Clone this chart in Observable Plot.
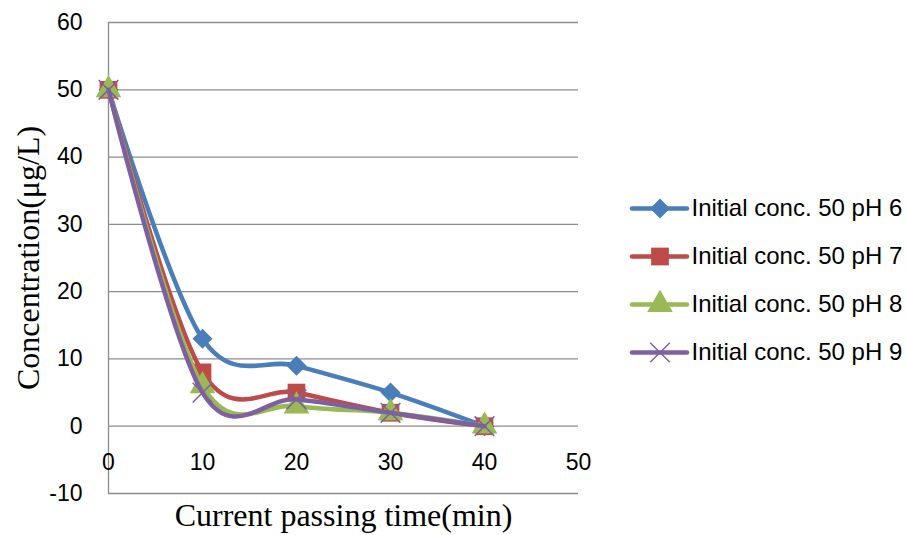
<!DOCTYPE html>
<html>
<head>
<meta charset="utf-8">
<script src="https://cdn.jsdelivr.net/npm/d3@7"></script>
<script src="https://cdn.jsdelivr.net/npm/@observablehq/plot@0.6"></script>
<style>
  html, body { margin: 0; padding: 0; background: #fff; }
  #wrap { position: relative; width: 906px; height: 535px; }
  #legend { position: absolute; left: 620px; top: 184px; }
</style>
</head>
<body>
<div id="wrap"><div id="chart"></div><div id="legend"></div></div>
<script>
const times = [0, 10, 20, 30, 40];
const seriesNames = ["Initial conc. 50 pH 6", "Initial conc. 50 pH 7", "Initial conc. 50 pH 8", "Initial conc. 50 pH 9"];
const pH6 = [50, 13, 9, 5, 0];
const pH7 = [50, 8, 5, 2, 0];
const pH8 = [50, 6, 3, 2, 0];
const pH9 = [50, 5, 4, 2, 0];
const yTicks = [-10, 0, 10, 20, 30, 40, 50, 60];
const xTicks = [0, 10, 20, 30, 40, 50];
const colors = ["#4a7ebb", "#be4b48", "#98b954", "#7d60a0"];
const symbols = ["diamond2", "square", "triangle", "times"];

const allValues = [pH6, pH7, pH8, pH9];
const data = [];
allValues.forEach((vals, i) => {
  vals.forEach((v, j) => data.push({series: seriesNames[i], time: times[j], conc: v}));
});

const gridColor = "#8c8c8c";
const fontSans = "'Liberation Sans', Arial, sans-serif";
const fontSerif = "'Liberation Serif', 'Times New Roman', serif";
const radius = s => s === "square" ? 10 : (s === "triangle" ? 9.5 : 9);

const markFor = (i) => {
  const d = data.filter(r => r.series === seriesNames[i]);
  const s = symbols[i];
  const isStroke = s === "times";
  return [
    Plot.line(d, {x: "time", y: "conc", stroke: colors[i], strokeWidth: 4.5, curve: "cardinal", tension: 0}),
    Plot.dot(d, {x: "time", y: "conc", symbol: () => s, r: radius(s),
      fill: isStroke ? "none" : colors[i], stroke: colors[i], strokeWidth: isStroke ? 1.5 : 0})
  ];
};

const chart = Plot.plot({
  width: 906,
  height: 535,
  marginLeft: 108,
  marginRight: 328,
  marginTop: 22,
  marginBottom: 42,
  style: {fontFamily: fontSans, background: "#fff", overflow: "visible"},
  x: {domain: [0, 50], axis: null},
  y: {domain: [-10, 60], axis: null},
  symbol: {type: "identity"},
  marks: [
    Plot.ruleY(yTicks, {stroke: gridColor, strokeWidth: 1.3, x1: 0, x2: 50}),
    Plot.ruleX([0], {y1: -10, y2: 60, stroke: gridColor, strokeWidth: 1.3}),
    Plot.text(yTicks, {x: 0, y: d => d, text: d => String(d), dx: -26, textAnchor: "end", fontSize: 23, fill: "#000"}),
    Plot.text(xTicks, {x: d => d, y: -5, text: d => String(d), dy: 3, textAnchor: "middle", fontSize: 23, fill: "#000"}),
    ...markFor(0), ...markFor(1), ...markFor(2), ...markFor(3),
    Plot.text(["Current passing time(min)"], {frameAnchor: "bottom", dy: 32, text: d => d, fontSize: 32, fontFamily: fontSerif, fill: "#000"}),
    Plot.text(["Concentration(μg/L)"], {x: 0, y: 25, text: d => d, dx: -80, rotate: -90, fontSize: 32, fontFamily: fontSerif, fill: "#000"})
  ]
});
document.getElementById("chart").appendChild(chart);

// Legend, drawn with Plot as well
const legendRows = seriesNames.map((name, i) => ({name, i}));
const legendDots = legendRows.map(row => {
  const s = symbols[row.i];
  const isStroke = s === "times";
  return Plot.dot([row], {x: 0.5, y: "name", symbol: () => s, r: radius(s),
    fill: isStroke ? "none" : colors[row.i], stroke: colors[row.i], strokeWidth: isStroke ? 1.5 : 0});
});
const legend = Plot.plot({
  width: 286,
  height: 200,
  margin: 0,
  style: {fontFamily: fontSans, background: "transparent", overflow: "visible"},
  x: {domain: [0, 1], range: [12, 67], axis: null},
  y: {domain: seriesNames, range: [24, 168], padding: 0, axis: null},
  symbol: {type: "identity"},
  marks: [
    Plot.ruleY(legendRows, {y: "name", x1: 0, x2: 1, stroke: d => colors[d.i], strokeWidth: 4.5, strokeLinecap: "round"}),
    ...legendDots,
    Plot.text(legendRows, {x: 1, y: "name", text: "name", dx: 4, textAnchor: "start", fontSize: 24, fill: "#000"})
  ]
});
document.getElementById("legend").appendChild(legend);
</script>
</body>
</html>
